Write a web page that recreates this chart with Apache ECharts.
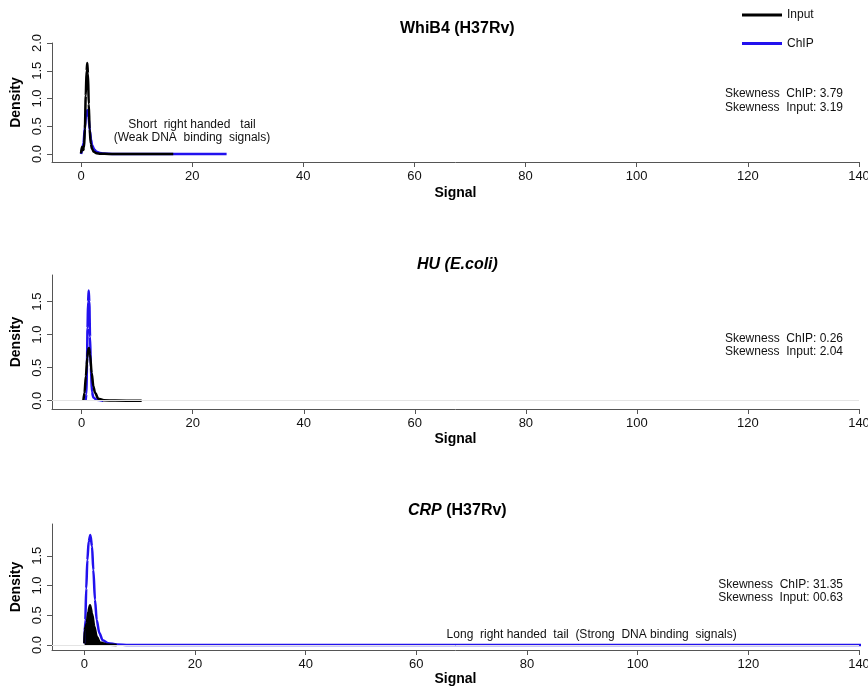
<!DOCTYPE html>
<html>
<head>
<meta charset="utf-8">
<title>Signal density</title>
<script src="https://cdn.jsdelivr.net/npm/echarts@6.0.0/dist/echarts.min.js"></script>
<style>
html, body { margin: 0; padding: 0; background: #fff; }
#main { width: 868px; height: 687px; }
</style>
</head>
<body>
<div id="main"></div>
<script>
// tick values
var xTicks = [0, 20, 40, 60, 80, 100, 120, 140];
var yTicksTop = [0, 0.5, 1, 1.5, 2];
var yTicks = [0, 0.5, 1, 1.5];

// WhiB4 (H37Rv) densities, [signal, density]
var whib4Input = [[0, 0.01], [0.15, 0.12], [0.25, 0.13], [0.4, 0.07], [0.55, 0.12], [0.7, 0.45], [0.85, 1.05], [1.0, 1.5], [1.13, 1.64], [1.25, 1.45], [1.4, 0.9], [1.55, 0.45], [1.75, 0.19], [2.0, 0.09], [2.3, 0.04], [2.8, 0.015], [3.5, 0.005], [5, 0.001], [10, 0], [16.6, 0]];
var whib4Chip = [[0, 0], [0.2, 0.06], [0.45, 0.2], [0.7, 0.48], [0.9, 0.7], [1.15, 0.79], [1.35, 0.66], [1.6, 0.42], [1.8, 0.26], [2.0, 0.16], [2.4, 0.08], [2.8, 0.04], [3.4, 0.02], [4, 0.01], [6, 0.002], [10, 0], [26.2, 0]];

// HU (E.coli)
var huInput = [[0.3, 0], [0.5, 0.12], [0.75, 0.37], [1.0, 0.65], [1.15, 0.77], [1.31, 0.8], [1.5, 0.7], [1.8, 0.42], [2.1, 0.22], [2.4, 0.12], [3.0, 0.03], [4, 0.008], [6, 0.002], [10.8, 0]];
var huChip = [[0.7, 0], [0.85, 0.1], [0.95, 0.55], [1.05, 1.1], [1.15, 1.5], [1.26, 1.67], [1.37, 1.5], [1.5, 0.97], [1.65, 0.5], [1.85, 0.13], [2.1, 0.05], [2.7, 0.015], [3.9, 0]];

// CRP (H37Rv)
var crpInput = [[0, 0.03], [0.07, 0.25], [0.25, 0.3], [0.43, 0.36], [0.72, 0.56], [1.03, 0.67], [1.39, 0.53], [1.81, 0.31], [2.24, 0.14], [2.84, 0.04], [4.05, 0.01], [5.85, 0]];
var crpChip = [[0, 0.03], [0.18, 0.42], [0.35, 0.95], [0.55, 1.43], [0.79, 1.74], [1.09, 1.85], [1.39, 1.66], [1.63, 1.26], [1.93, 0.76], [2.24, 0.42], [2.72, 0.2], [3.32, 0.08], [4.34, 0.03], [5.85, 0.01], [8, 0.002], [141.7, 0]];

var skewText = [
    'Skewness  ChIP: 3.79\nSkewness  Input: 3.19',
    'Skewness  ChIP: 0.26\nSkewness  Input: 2.04',
    'Skewness  ChIP: 31.35\nSkewness  Input: 00.63'
];

var FONT = '"Liberation Sans", Arial, Helvetica, sans-serif';
var BLACK = '#000000';
var BLUE = '#2211ee';

var chart = echarts.init(document.getElementById('main'));

function xAx(idx, min, gap) {
    return {
        type: 'value', gridIndex: idx, min: min, max: 140,
        name: 'Signal', nameLocation: 'middle', nameGap: gap,
        nameTextStyle: { fontFamily: FONT, fontWeight: 'bold', fontSize: 14, color: '#000' },
        axisLine: { onZero: false, lineStyle: { color: '#555', width: 1 } },
        axisTick: { customValues: xTicks, length: 5, lineStyle: { color: '#555' } },
        axisLabel: { customValues: xTicks, margin: 8, fontFamily: FONT, fontSize: 13, color: '#111' },
        splitLine: { show: false }
    };
}

function yAx(idx, min, max, ticks) {
    return {
        type: 'value', gridIndex: idx, min: min, max: max,
        name: 'Density', nameLocation: 'middle', nameGap: 29,
        nameTextStyle: { fontFamily: FONT, fontWeight: 'bold', fontSize: 14, color: '#000' },
        axisLine: { show: true, onZero: false, lineStyle: { color: '#555', width: 1 } },
        axisTick: { show: true, customValues: ticks, length: 5, lineStyle: { color: '#555' } },
        axisLabel: {
            customValues: ticks, rotate: 90, margin: 8, fontFamily: FONT, fontSize: 13, color: '#111',
            formatter: function (v) { return v.toFixed(1); }
        },
        splitLine: { show: false }
    };
}

function line(name, idx, data, color, extra) {
    var s = {
        name: name, type: 'line', xAxisIndex: idx, yAxisIndex: idx,
        data: data, showSymbol: false, symbol: 'none',
        smooth: 0.3, smoothMonotone: 'x',
        lineStyle: { color: color, width: 2.5 },
        itemStyle: { color: color },
        animation: false
    };
    for (var k in extra) s[k] = extra[k];
    return s;
}

var zeroLine = {
    silent: true, symbol: 'none', label: { show: false },
    lineStyle: { color: '#e4e4e4', width: 1, type: 'solid' },
    data: [{ yAxis: 0 }]
};

var italicBold = { fontFamily: FONT, fontSize: 16, fontWeight: 'bold', fontStyle: 'italic', color: '#000' };
var plainBold = { fontFamily: FONT, fontSize: 16, fontWeight: 'bold', color: '#000' };

function titleAt(left, top, text) {
    return {
        text: text, left: left, top: top, padding: 0,
        textStyle: { fontFamily: FONT, fontSize: 16, fontWeight: 'bold', color: '#000', rich: { i: italicBold, b: plainBold } }
    };
}

function note(x, y, text, align) {
    return {
        type: 'text', x: x, y: y,
        style: {
            text: text, align: align, verticalAlign: 'middle', lineHeight: 13.5,
            font: '12px ' + FONT, fill: '#111'
        }
    };
}

var gridBase = { left: 52, right: 9, outerBoundsMode: 'none', containLabel: false };

var option = {
    backgroundColor: '#fff',
    animation: false,
    title: [
        titleAt(400, 21, 'WhiB4 (H37Rv)'),
        titleAt(417, 257, '{i|HU (E.coli)}'),
        titleAt(408, 503, '{i|CRP} {b|(H37Rv)}')
    ],
    legend: {
        orient: 'vertical', left: 742, top: 9, padding: 0,
        itemWidth: 40, itemHeight: 3, itemGap: 16.5, icon: 'rect',
        data: ['Input', 'ChIP'],
        textStyle: { fontFamily: FONT, fontSize: 12, color: '#111' }
    },
    grid: [
        echarts.util.extend({ top: 43, height: 119 }, gridBase),
        echarts.util.extend({ top: 275, height: 134 }, gridBase),
        echarts.util.extend({ top: 524, height: 126 }, gridBase)
    ],
    xAxis: [
        xAx(0, -5.22, 24),
        xAx(1, -5.35, 23.5),
        xAx(2, -5.84, 22)
    ],
    yAxis: [
        yAx(0, -0.144, 2.0, yTicksTop),
        yAx(1, -0.125, 1.903, yTicks),
        yAx(2, -0.084, 2.034, yTicks)
    ],
    series: [
        line('ChIP', 0, whib4Chip, BLUE, {}),
        line('Input', 0, whib4Input, BLACK, {}),
        line('ChIP', 1, huChip, BLUE, { markLine: zeroLine }),
        line('Input', 1, huInput, BLACK, {}),
        line('ChIP', 2, crpChip, BLUE, { markLine: zeroLine, clip: false }),
        line('Input', 2, crpInput, BLACK, { areaStyle: { color: BLACK, opacity: 1, origin: 0 } })
    ],
    graphic: [
        note(192, 131, 'Short  right handed   tail\n(Weak DNA  binding  signals)', 'center'),
        note(843, 100.5, skewText[0], 'right'),
        note(843, 345.3, skewText[1], 'right'),
        note(843, 591, skewText[2], 'right'),
        note(591.7, 634.3, 'Long  right handed  tail  (Strong  DNA binding  signals)', 'center')
    ]
};

chart.setOption(option);
</script>
</body>
</html>
